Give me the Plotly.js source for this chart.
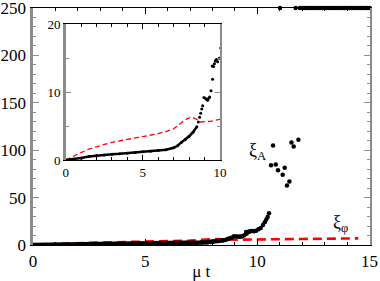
<!DOCTYPE html>
<html>
<head>
<meta charset="utf-8">
<script src="https://cdn.plot.ly/plotly-3.0.1.min.js"></script>
<style>html,body{margin:0;padding:0;background:#fff;}#chart{width:380px;height:281px;}</style>
</head>
<body>
<div id="chart"></div>
<script>
// xi_A : smooth early part
const tSmooth = [0, 0.5, 1, 1.5, 2, 2.5, 3, 3.5, 4, 4.5, 5, 5.5, 6, 6.5, 7, 7.25, 7.5, 7.75, 8, 8.25, 8.5];
const xiSmooth = [0, 0.1, 0.3, 0.5, 0.65, 0.75, 0.85, 0.92, 1.0, 1.1, 1.2, 1.3, 1.4, 1.5, 1.8, 2.1, 2.6, 3.0, 3.5, 4.1, 4.9];
// xi_A : sparse growth part
const tSparse = [8.6, 8.68, 8.75, 8.82, 8.88, 8.96, 9.05, 9.13, 9.2, 9.27, 9.33, 9.42, 9.5, 9.52, 9.58, 9.64, 9.7, 9.76, 9.85, 9.95, 10.05, 10.15, 10.25, 10.33, 10.4, 10.46, 10.52];
const xiSparse = [5.6, 6.3, 6.9, 7.5, 8.0, 9.2, 9.1, 8.9, 8.8, 9.1, 9.3, 10.2, 13.85, 11.9, 13.8, 14.2, 14.6, 14.8, 14.5, 15.0, 16.5, 18.0, 21.0, 24.0, 27.0, 29.5, 33.5];
// xi_A : scattered large values
const tScatter = [10.61, 10.7, 10.82, 10.92, 11.13, 11.22, 11.32, 11.43, 11.52, 11.62, 11.83];
const xiScatter = [84, 105, 85, 78.8, 74, 81.6, 62.7, 66.9, 108, 104, 111];
// xi_A : saturated values (plotted at the top)
const tTop = [11.01, 11.71, 11.9, 12.0, 12.1, 12.2, 12.3, 12.4, 12.5, 12.6, 12.7, 12.8, 12.9, 13.0, 13.1, 13.2, 13.3, 13.4, 13.5, 13.6, 13.7, 13.8, 13.9, 14.0, 14.1, 14.2, 14.3, 14.4, 14.5, 14.6, 14.7, 14.8, 14.9, 15.0];
const xiTop = [250, 250, 250, 250, 250, 250, 250, 250, 250, 250, 250, 250, 250, 250, 250, 250, 250, 250, 250, 250, 250, 250, 250, 250, 250, 250, 250, 250, 250, 250, 250, 250, 250, 250];
// xi_phi
const tPhi = [0, 0.5, 1, 1.5, 2, 2.5, 3, 3.5, 4, 4.5, 5, 5.5, 6, 6.5, 7, 7.5, 7.8, 8.1, 8.4, 8.75, 9.1, 9.4, 10, 11, 12, 13, 14, 14.5];
const xiPhi = [0, 0.6, 1.1, 1.6, 2.0, 2.3, 2.6, 2.85, 3.05, 3.25, 3.45, 3.65, 3.9, 4.2, 4.6, 5.5, 6.0, 6.3, 6.1, 5.6, 5.6, 5.7, 6.0, 6.2, 6.4, 6.6, 6.9, 7.0];

const serif = "Liberation Serif, Times New Roman, serif";
const traces = [
  {x: tPhi, y: xiPhi, xaxis: 'x', yaxis: 'y', mode: 'lines', line: {color: '#ff0000', width: 2.6, dash: '9px,5px'}, hoverinfo: 'skip'},
  {x: tSmooth, y: xiSmooth, xaxis: 'x', yaxis: 'y', mode: 'lines+markers', line: {color: '#000', width: 4.5}, marker: {color: '#000', size: 4.5}},
  {x: tSparse, y: xiSparse, xaxis: 'x', yaxis: 'y', mode: 'markers', marker: {color: '#000', size: 4.5}},
  {x: tScatter, y: xiScatter, xaxis: 'x', yaxis: 'y', mode: 'markers', marker: {color: '#000', size: 4.5}},
  {x: tTop, y: xiTop, xaxis: 'x', yaxis: 'y', mode: 'markers', marker: {color: '#000', size: 4.5}, cliponaxis: false},
  {x: tPhi, y: xiPhi, xaxis: 'x2', yaxis: 'y2', mode: 'lines', line: {color: '#ff0000', width: 1.3, dash: '5px,3px'}},
  {x: tSmooth, y: xiSmooth, xaxis: 'x2', yaxis: 'y2', mode: 'lines+markers', line: {color: '#000', width: 2.5}, marker: {color: '#000', size: 3}},
  {x: tSparse, y: xiSparse, xaxis: 'x2', yaxis: 'y2', mode: 'markers', marker: {color: '#000', size: 3}}
];

function ax(extra) {
  return Object.assign({
    showgrid: false, zeroline: false, showline: true, mirror: 'allticks',
    ticks: 'inside', tickcolor: '#000', linecolor: '#000', linewidth: 1.2,
    ticklabeloverflow: 'allow', fixedrange: true
  }, extra);
}

const layout = {
  width: 380, height: 281,
  margin: {l: 0, r: 0, t: 0, b: 0},
  paper_bgcolor: '#fff', plot_bgcolor: 'rgba(0,0,0,0)',
  showlegend: false,
  font: {family: serif, color: '#000'},
  xaxis: ax({domain: [0.0868, 0.9724], range: [0, 15], dtick: 5, ticklen: 6, tickwidth: 1,
    minor: {dtick: 1, ticklen: 3, ticks: 'inside', tickcolor: '#000'},
    tickfont: {family: serif, size: 17}, ticklabelstandoff: 0,
    title: {text: 'μ t', font: {family: serif, size: 17}, standoff: 2}, anchor: 'y'}),
  yaxis: ax({domain: [0.1281, 0.9715], range: [0, 250], dtick: 50, ticklen: 6, tickwidth: 1,
    linecolor: '#8c8c8c', linewidth: 2.5, tickcolor: '#8c8c8c',
    minor: {dtick: 10, ticklen: 3, ticks: 'inside', tickcolor: '#8c8c8c'},
    tickfont: {family: serif, size: 17}, ticklabelstandoff: 1, anchor: 'x'}),
  xaxis2: ax({domain: [0.1729, 0.5789], range: [0, 10], dtick: 5, ticklen: 5, tickwidth: 1,
    minor: {dtick: 1, ticklen: 3, ticks: 'inside', tickcolor: '#000'},
    tickfont: {family: serif, size: 13}, anchor: 'y2'}),
  yaxis2: ax({domain: [0.4306, 0.9135], range: [0, 20], dtick: 10, ticklen: 5, tickwidth: 1,
    linecolor: '#8c8c8c', linewidth: 2.5, tickcolor: '#8c8c8c',
    minor: {dtick: 5, ticklen: 3, ticks: 'inside', tickcolor: '#8c8c8c'},
    tickfont: {family: serif, size: 13}, anchor: 'x2'}),
  annotations: [
    {xref: 'x', yref: 'y', x: 9.55, y: 99, text: 'ξ<sub>A</sub>', showarrow: false, xanchor: 'left', yanchor: 'middle', font: {family: serif, size: 18}},
    {xref: 'x', yref: 'y', x: 13.3, y: 23, text: 'ξ<sub>φ</sub>', showarrow: false, xanchor: 'left', yanchor: 'middle', font: {family: serif, size: 18}}
  ]
};

Plotly.newPlot('chart', traces, layout, {displayModeBar: false, staticPlot: true});
</script>
</body>
</html>
